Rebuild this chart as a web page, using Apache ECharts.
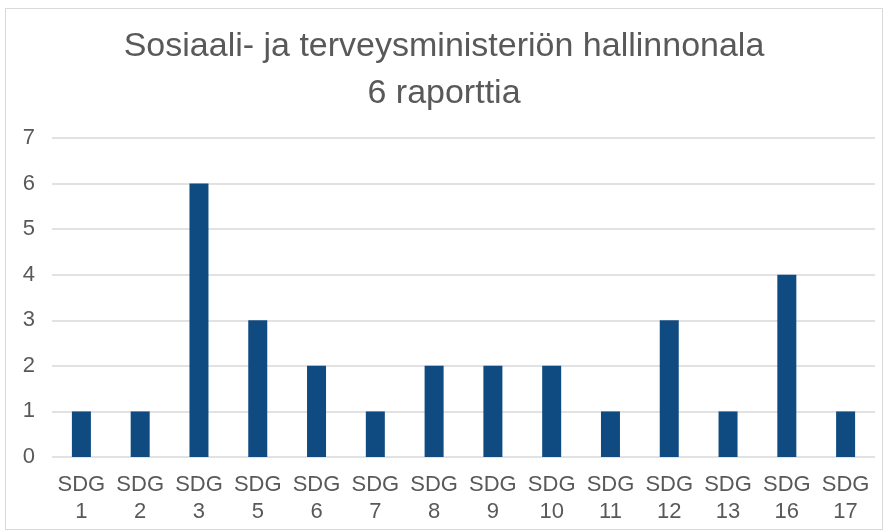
<!DOCTYPE html>
<html>
<head>
<meta charset="utf-8">
<script src="https://cdn.jsdelivr.net/npm/echarts@6/dist/echarts.min.js"></script>
<style>
  html, body { margin: 0; padding: 0; background: #fff; }
  #frame { position: absolute; left: 5px; top: 8px; width: 878px; height: 522px; border: 1px solid #d9d9d9; box-sizing: border-box; }
  #chart { position: absolute; left: 0; top: 0; width: 888px; height: 531px; }
</style>
</head>
<body>
<div id="frame"></div>
<div id="chart"></div>
<script>
const categories = ['SDG\n1', 'SDG\n2', 'SDG\n3', 'SDG\n5', 'SDG\n6', 'SDG\n7', 'SDG\n8', 'SDG\n9', 'SDG\n10', 'SDG\n11', 'SDG\n12', 'SDG\n13', 'SDG\n16', 'SDG\n17']
const reportCounts = [1, 1, 6, 3, 2, 1, 2, 2, 2, 1, 3, 1, 4, 1]
const titleLines = ['Sosiaali- ja terveysministeriön hallinnonala', '6 raporttia']

const myEchart = echarts.init(document.getElementById('chart'))
const options = {
  animation: false,
  textStyle: { fontFamily: 'Liberation Sans, Arial, sans-serif' },
  title: {
    text: titleLines.join('\n'),
    left: 'center',
    top: 18,
    textStyle: {
      fontSize: 34,
      fontWeight: 'normal',
      color: '#595959',
      lineHeight: 47
    }
  },
  grid: {
    left: 52,
    right: 13,
    top: 138,
    bottom: 74,
    containLabel: false
  },
  xAxis: {
    type: 'category',
    data: categories,
    axisLine: { show: false },
    axisTick: { show: false },
    splitLine: { show: false },
    axisLabel: {
      color: '#595959',
      fontSize: 22,
      lineHeight: 27,
      margin: 14,
      interval: 0
    }
  },
  yAxis: {
    type: 'value',
    min: 0,
    max: 7,
    interval: 1,
    axisLine: { show: false },
    axisTick: { show: false },
    axisLabel: {
      color: '#595959',
      fontSize: 22,
      margin: 17
    },
    splitLine: {
      lineStyle: { color: '#d9d9d9', width: 1.5 }
    }
  },
  series: [
    {
      type: 'bar',
      data: reportCounts,
      barWidth: 19,
      itemStyle: { color: '#0f4a80' }
    }
  ]
}
myEchart.setOption(options)
</script>
</body>
</html>
